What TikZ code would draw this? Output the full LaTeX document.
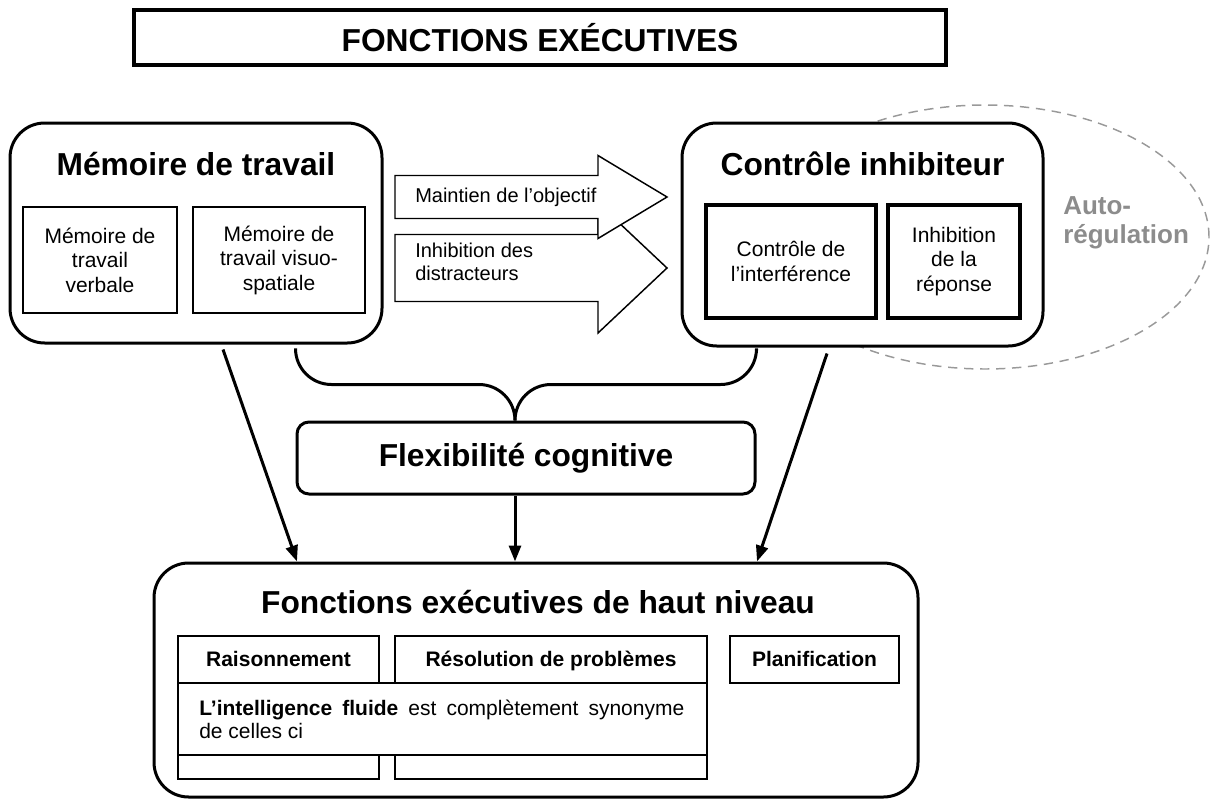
\documentclass[tikz,border=0pt]{standalone}
\usepackage{fontspec}
\setmainfont{Liberation Sans}
\usetikzlibrary{arrows.meta,calc}

\newlength{\pix}
\setlength{\pix}{0.75pt}

\tikzset{
    bigbox/.style={draw, line width=2.25pt, rounded corners=26pt, fill=white, inner sep=0pt},
    bigfont/.style={font=\fontsize{23.8}{27}\selectfont\bfseries},
    boxtitle/.style={bigfont, anchor=base, inner sep=0pt},
    thinbox/.style={draw, line width=1.1pt, fill=white, inner sep=0pt, align=center,
        font=\fontsize{15.75}{18.4}\selectfont},
    thickbox/.style={thinbox, line width=2.6pt},
    hfnbox/.style={thinbox, text height=12pt, text depth=1pt, font=\fontsize{15.75}{18.4}\selectfont\bfseries},
    blockarrow/.style={draw, line width=1.1pt, fill=white, line join=miter},
    arrowtext/.style={inner sep=0pt, align=left, font=\fontsize{15}{17.25}\selectfont},
    link/.style={line width=2.25pt},
    conn/.style={link, -{Triangle[length=12pt, width=9pt]}},
}

\begin{document}
\begin{tikzpicture}[x=0.75pt, y=-0.75pt]
    \useasboundingbox (0,0) rectangle (1210,803);

    % Title
    \node[draw, line width=3.3pt, minimum width=812\pix, minimum height=55\pix, bigfont] (title) at (540,37.5) {FONCTIONS EXÉCUTIVES};

    % Working memory
    \node[bigbox, minimum width=372\pix, minimum height=220\pix] (mdt) at (196,233) {};
    \node[boxtitle] (mdttitle) at (196,175) {Mémoire de travail};
    \node[thinbox, minimum width=154\pix, minimum height=106\pix] (verb) at (100,260) {Mémoire de\\travail\\verbale};
    \node[thinbox, minimum width=172\pix, minimum height=106\pix] (visuo) at (279,260) {Mémoire de\\travail visuo-\\spatiale};

    % Self-regulation ellipse (behind the inhibitory control box)
    \draw[black!40, dash pattern=on 7pt off 5pt, line width=1.1pt] (985,237) ellipse [x radius=224\pix, y radius=132\pix];
    \node[inner sep=0pt, anchor=west, align=left, text=black!45, font=\fontsize{19.5}{21.75}\selectfont\bfseries] (autoreg) at (1063,223) {Auto-\\régulation};

    % Inhibitory control
    \node[bigbox, minimum width=361\pix, minimum height=223\pix] (ci) at (862.5,234.5) {};
    \node[boxtitle] (cititle) at (862.5,175) {Contrôle inhibiteur};
    \node[thickbox, minimum width=170\pix, minimum height=113\pix] (interf) at (791,261.5) {Contrôle de\\l’interférence};
    \node[thickbox, minimum width=132\pix, minimum height=113\pix] (resp) at (954,261.5) {Inhibition\\de la\\réponse};

    % Block arrows (lower one first)
    \foreach \yc/\sh/\hh in {268/33.5/65, 197/21.5/41.5} {
        \draw[blockarrow] (395,{\yc-\sh}) -- (598,{\yc-\sh}) -- (598,{\yc-\hh}) -- (667,\yc)
            -- (598,{\yc+\hh}) -- (598,{\yc+\sh}) -- (395,{\yc+\sh}) -- cycle;
    }
    \node[arrowtext, anchor=base west] (goal) at (415,202) {Maintien de l’objectif};
    \node[arrowtext, anchor=west] (distr) at (415,262) {Inhibition des\\distracteurs};

    % Cognitive flexibility
    \node[draw, line width=2.25pt, rounded corners=9pt, minimum width=458\pix, minimum height=72\pix, bigfont] (flex) at (526,458) {Flexibilité cognitive};

    % Higher-level executive functions
    \node[bigbox, minimum width=764\pix, minimum height=234\pix] (hfn) at (536,680) {};
    \node[boxtitle] (hfntitle) at (538,613) {Fonctions exécutives de haut niveau};
    \foreach \nm/\xc/\bw/\txt in {reas/278.5/201/Raisonnement, solve/551/312/Résolution de problèmes, plan/814.5/169/Planification} {
        \node[hfnbox, minimum width=\bw\pix, minimum height=47\pix] (\nm) at (\xc,659.5) {\txt};
    }
    \node[thinbox, minimum width=201\pix, minimum height=24\pix] (reasfoot) at (278.5,767) {};
    \node[thinbox, minimum width=312\pix, minimum height=24\pix] (solvefoot) at (551,767) {};
    \node[thinbox, minimum width=529\pix, minimum height=72\pix] (fluid) at (442.5,719) {};
    \node[arrowtext, font=\fontsize{15.75}{17.25}\selectfont, anchor=west] (fluidtext) at (199,719)
        {\makebox[485\pix][s]{\textbf{L’intelligence fluide} est complètement synonyme}\\de celles ci};

    % Brace from both boxes into flexibility
    \draw[link, rounded corners=27pt] ($(mdt.south -| flex.west)+(0,5)$) |- ($(flex.north)+(-11,-36)$) -- ($(flex.north)+(-11,0)$);
    \draw[link, rounded corners=27pt] ($(ci.south -| flex.east)+(0,3)$) |- ($(flex.north)+(-11,-36)$) -- ($(flex.north)+(-11,0)$);

    % Arrows down to the higher-level box
    \draw[conn] ($(mdt.south)+(27,5)$) -- ($(hfn.north)+(-239,0)$);
    \draw[conn] ($(flex.south)+(-11,0)$) -- ($(hfn.north)+(-21,0)$);
    \draw[conn] ($(ci.south)+(-35.5,6)$) -- ($(hfn.north)+(221,0)$);
\end{tikzpicture}
\end{document}
